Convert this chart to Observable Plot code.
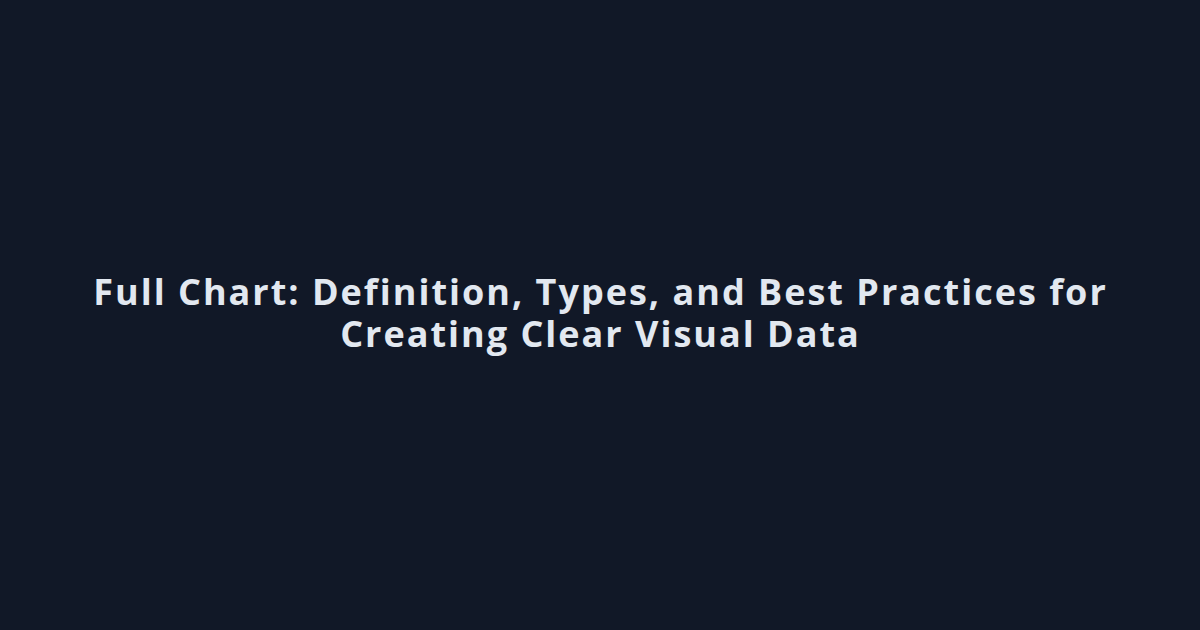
<!DOCTYPE html>
<html>
<head>
<meta charset="utf-8">
<script src="https://cdn.jsdelivr.net/npm/d3@7"></script>
<script src="https://cdn.jsdelivr.net/npm/@observablehq/plot@0.6"></script>
<style>
  html, body { margin: 0; padding: 0; background: #111827; }
  #chart { width: 1200px; height: 630px; }
</style>
</head>
<body>
<div id="chart"></div>
<script>
const titleLines = [
  "Full Chart: Definition, Types, and Best Practices for",
  "Creating Clear Visual Data"
];

const plot = Plot.plot({
  width: 1200,
  height: 630,
  margin: 0,
  style: { background: "#111827", color: "#e2e8f0", letterSpacing: "2px" },
  y: { type: "point", domain: titleLines, range: [293, 335], padding: 0, axis: null },
  marks: [
    Plot.text(titleLines, {
      y: d => d,
      text: d => d,
      frameAnchor: "middle",
      lineAnchor: "middle",
      fontSize: 36,
      fontWeight: 700,
      fontFamily: "Open Sans, sans-serif",
      fill: "#e2e8f0"
    })
  ]
});
document.getElementById("chart").appendChild(plot);
</script>
</body>
</html>
